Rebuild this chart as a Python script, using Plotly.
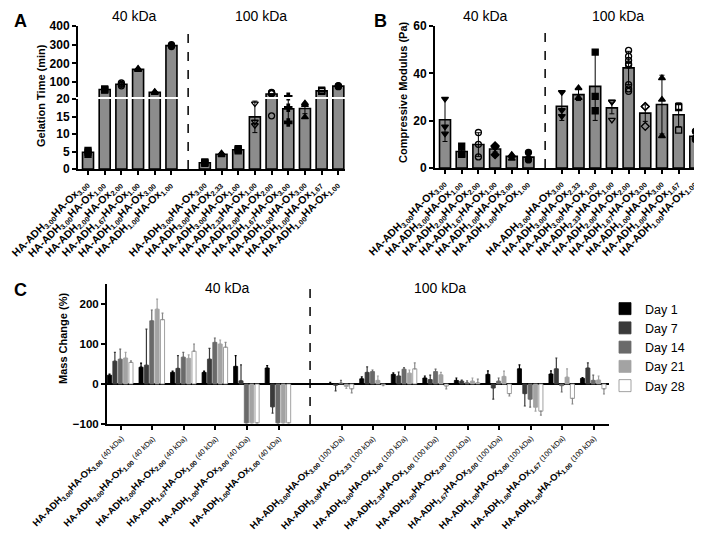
import plotly.graph_objects as go

W, H = 702, 533
def px(x): return x / W
def py(y): return 1 - y / H

# ---------------- data ----------------
adh_40 = ["3.00", "3.00", "2.00", "1.67", "1.00", "1.00"]
ox_40 = ["3.00", "1.00", "2.00", "1.00", "3.00", "1.00"]
adh_100 = ["3.00", "3.00", "3.00", "2.33", "2.00", "1.67", "1.00", "1.00", "1.00"]
ox_100 = ["3.00", "2.33", "1.00", "1.00", "2.00", "3.00", "3.00", "1.67", "1.00"]
pos_40 = [0, 1, 2, 3, 4, 5]
pos_100 = [7, 8, 9, 10, 11, 12, 13, 14, 15]

# Panel A: gelation time (min)
gel_40 = [4.8, 60, 88, 168, 45, 295]
gel_40_err = [0.5, 3, 10, 5, 3, 5]
gel_100 = [1.8, 4.2, 5.5, 14.9, 36, 17.2, 17.3, 53, 78]
gel_100_err = [0.3, 0.4, 0.5, 4.5, 0, 4.0, 1.5, 3, 3]
gel_40_pts = [[4.2, 4.8, 5.3], [57, 60, 63], [80, 88, 95], [165, 168, 172], [42, 45, 48], [290, 295, 300]]
gel_100_pts = [[1.6, 1.8, 2.0], [4.0, 4.3, 4.5], [5.2, 5.5, 5.8], [18.7, 13.5, 12.5],
               [15.2, 40, 42, 45, 38], [20.8, 17.5, 13.3], [18.8, 18.3, 14.8], [50, 53, 56], [75, 78, 81]]
gel_sym_40 = ["square", "square", "circle-open", "triangle-up", "triangle-up", "circle"]
gel_sym_100 = ["square", "triangle-up", "square", "triangle-down-open", "circle-open", "cross", "triangle-up", "square-open", "circle"]
gel_break = 20

# Panel B: compressive modulus (Pa)
mod_40 = [20.4, 7.0, 9.9, 8.0, 4.9, 4.6]
mod_40_err = [9.2, 1.5, 5.0, 1.2, 0.5, 1.2]
mod_100 = [26.1, 31.0, 34.5, 25.4, 42.3, 23.2, 26.8, 22.5, 13.4]
mod_100_err = [6.0, 2.5, 14.4, 2.5, 7.0, 3.5, 12.4, 5.0, 1.5]
mod_40_pts = [[29.2, 17.5, 14.5], [9.2, 6.0, 5.8], [15.0, 10.0, 4.7], [9.4, 9.0, 5.6], [5.6, 5.2, 4.0], [6.6, 3.8, 3.4]]
mod_100_pts = [[32, 24.4, 21.9], [33.8, 29.6, 29.6], [49, 30.3, 24.2], [28, 27.9, 20.3],
               [49.7, 47.2, 45.5, 44, 43.5, 35.2, 33.4, 32.4], [26, 26, 17.6], [38, 28.9, 13.5], [26, 25.5, 16], [15.5, 12.7, 12]]
mod_sym_40 = ["triangle-down", "square", "circle-open", "diamond", "triangle-up", "circle"]
mod_sym_100 = ["triangle-down", "triangle-up", "square", "triangle-down-open", "circle-open", "diamond-open", "triangle-up", "square-open", "circle"]

# Panel C: mass change (%) per day, 15 groups (6 x 40 kDa + 9 x 100 kDa)
days = ["Day 1", "Day 7", "Day 14", "Day 21", "Day 28"]
day1 = [22, 42, 29, 29, 44, 40, 1, 13, 24, 15, 9, 24, 38, 25, 14]
day1_err = [3, 10, 3, 3, 27, 6, 3, 5, 4, 5, 6, 9, 10, 8, 2]
day7 = [57, 47, 39, 62, 8, -57, -3, 29, 20, 11, 7, -10, -24, 38, 40]
day7_err = [22, 90, 32, 27, 40, 16, 14, 14, 10, 11, 3, 28, 31, 27, 13]
day14 = [62, 158, 67, 104, -97, -97, 2, 31, 37, 31, 3, 7, -38, -4, 9]
day14_err = [25, 27, 12, 11, 0, 0, 7, 4, 4, 6, 5, 8, 20, 16, 13]
day21 = [65, 187, 64, 100, -97, -97, -6, 9, 27, 23, 7, 19, -58, 17, 10]
day21_err = [14, 25, 9, 10, 0, 0, 5, 11, 8, 6, 8, 13, 10, 21, 10]
day28 = [54, 161, 82, 92, -97, -97, -12, -2, 38, -5, 3, -24, -68, -36, -12]
day28_err = [4, 16, 18, 12, 0, 0, 10, 2, 15, 7, 9, 6, 10, 14, 13]

# ---------------- styling ----------------
FONT = "Arial, Liberation Sans, sans-serif"
GRAY = "#8c8c8c"
day_fill = ["#000000", "#3a3a3a", "#6a6a6a", "#a3a3a3", "#ffffff"]
day_line = ["#000000", "#3a3a3a", "#6a6a6a", "#a3a3a3", "#8a8a8a"]

def lab(a, o, suffix=""):
    s = f"<b>HA-ADH<sub>{a}</sub>HA-Ox<sub>{o}</sub></b>"
    if suffix:
        s += f" <span style='font-size:7.5px'>{suffix}</span>"
    return s

labels_A = [lab(a, o) for a, o in zip(adh_40, ox_40)] + [lab(a, o) for a, o in zip(adh_100, ox_100)]
labels_C = [lab(a, o, "(40 kDa)") for a, o in zip(adh_40, ox_40)] + [lab(a, o, "(100 kDa)") for a, o in zip(adh_100, ox_100)]
positions = pos_40 + pos_100

fig = go.Figure()

def add_points(xa, ya, pts, syms, keep=lambda v: True):
    for p, vs, sy in zip(positions, pts, syms):
        vv = [v for v in vs if keep(v)]
        if vv:
            fig.add_trace(go.Scatter(x=[p] * len(vv), y=vv, xaxis=xa, yaxis=ya, mode="markers",
                                     marker=dict(symbol=sy, size=6, color="black", line=dict(color="black", width=1.3)),
                                     showlegend=False, hoverinfo="skip", cliponaxis=True))

def add_bars(xa, ya, vals, errs):
    fig.add_trace(go.Bar(x=positions, y=vals, xaxis=xa, yaxis=ya, width=0.66,
                         marker=dict(color=GRAY, line=dict(color="black", width=1.6)),
                         error_y=dict(type="data", array=errs, color="black", thickness=1, width=2.5),
                         showlegend=False, hoverinfo="skip"))

gel_all = gel_40 + gel_100
gel_err_all = gel_40_err + gel_100_err
gel_pts = gel_40_pts + gel_100_pts
gel_sym = gel_sym_40 + gel_sym_100
# broken axis: lower segment (0-20) and upper segment (20-400)
add_bars("x", "y", gel_all, gel_err_all)
add_points("x", "y", gel_pts, gel_sym, lambda v: v <= gel_break + 1)
add_bars("x", "y2", [v if v > gel_break else None for v in gel_all], gel_err_all)
add_points("x", "y2", gel_pts, gel_sym, lambda v: v > gel_break)

add_bars("x2", "y3", mod_40 + mod_100, mod_40_err + mod_100_err)
add_points("x2", "y3", mod_40_pts + mod_100_pts, mod_sym_40 + mod_sym_100)

day_vals = [day1, day7, day14, day21, day28]
day_errs = [day1_err, day7_err, day14_err, day21_err, day28_err]
for k, (name, v, e) in enumerate(zip(days, day_vals, day_errs)):
    plus = [ei if vi >= 0 else 0 for vi, ei in zip(v, e)]
    minus = [ei if vi < 0 else 0 for vi, ei in zip(v, e)]
    fig.add_trace(go.Bar(x=positions, y=v, name=name, xaxis="x3", yaxis="y4",
                         width=0.13, offset=-0.425 + k * 0.17,
                         marker=dict(color=day_fill[k], line=dict(color=day_line[k], width=0.8)),
                         error_y=dict(type="data", symmetric=False, array=plus, arrayminus=minus,
                                      color=day_line[k], thickness=1.2, width=1),
                         hoverinfo="skip"))

def tf(size):
    return dict(family=FONT, size=size, color="black", weight="bold")

axis_common = dict(showline=True, linecolor="black", linewidth=2, ticks="outside", ticklen=4,
                   tickwidth=1.5, tickcolor="black", showgrid=False, zeroline=False, automargin=False)

xA = dict(axis_common, domain=[px(70), px(337)], range=[-0.6, 15.4], anchor="y",
          tickvals=positions, showticklabels=False)
xB = dict(axis_common, domain=[px(427), px(694)], range=[-0.6, 15.4], anchor="y3",
          tickvals=positions, showticklabels=False)
xC = dict(axis_common, domain=[px(99), px(601)], range=[-0.44, 15.48], anchor="y4",
          tickvals=positions, showticklabels=False)

yA_low = dict(axis_common, domain=[py(161), py(91)], range=[0, 20], anchor="x",
              tickvals=[0, 5, 10, 15, 20], tickfont=tf(12))
yA_up = dict(axis_common, domain=[py(89), py(18)], range=[20, 400], anchor="x",
             tickvals=[100, 200, 300, 400], tickfont=tf(12))
yB = dict(axis_common, domain=[py(160), py(18)], range=[0, 60], anchor="x2",
          tickvals=[0, 20, 40, 60], tickfont=tf(12))
yC = dict(axis_common, domain=[py(416), py(276)], range=[-100, 250], anchor="x3",
          tickvals=[-100, 0, 100, 200], tickfont=tf(11.5),
          zeroline=True, zerolinecolor="black", zerolinewidth=2)

shapes = [
    dict(type="line", xref="x", yref="paper", x0=6, x1=6, y0=py(161), y1=py(18),
         line=dict(color="black", width=1.5, dash="dash")),
    dict(type="line", xref="x2", yref="paper", x0=6, x1=6, y0=py(160), y1=py(18),
         line=dict(color="black", width=1.5, dash="dash")),
    dict(type="line", xref="x3", yref="paper", x0=6, x1=6, y0=py(416), y1=py(276),
         line=dict(color="black", width=1.5, dash="dash")),
]

def ann(text, x, y, size=14, bold=False, angle=0):
    return dict(text=text, x=px(x), y=py(y), xref="paper", yref="paper", showarrow=False,
                textangle=angle, xanchor="center", yanchor="middle",
                font=dict(family=FONT, size=size, color="black", weight="bold" if bold else "normal"))

annotations = [
    ann("A", 12, 13, 18, True), ann("B", 372, 13, 18, True), ann("C", 12, 282, 18, True),
    ann("40 kDa", 126, 8, 14), ann("100 kDa", 253, 8, 14),
    ann("40 kDa", 478, 8, 14), ann("100 kDa", 610, 8, 14),
    ann("40 kDa", 220, 280, 14), ann("100 kDa", 432, 280, 14),
    ann("Gelation Time (min)", 33, 88, 11, True, -90),
    ann("Compressive Modulus (Pa)", 395, 84, 11, True, -90),
    ann("Mass Change (%)", 55, 330, 11, True, -90),
]

# rotated category labels placed at the category positions of each x axis
def cat_labels(xref, axis_px, texts, size, dx, dy):
    out = []
    for p, t in zip(positions, texts):
        out.append(dict(text=t, x=p, xref=xref, y=py(axis_px), yref="paper", showarrow=False,
                        textangle=-45, xanchor="right", yanchor="top", xshift=dx, yshift=-dy,
                        borderpad=0, font=dict(family=FONT, size=size, color="black")))
    return out

annotations += cat_labels("x", 161, labels_A, 10.5, 5, 7)
annotations += cat_labels("x2", 160, labels_A, 10.5, 5, 7)
annotations += cat_labels("x3", 416, labels_C, 9.5, 7, 7)

fig.update_layout(
    template="none",
    width=W, height=H, margin=dict(l=0, r=0, t=0, b=0, autoexpand=False),
    paper_bgcolor="white", plot_bgcolor="rgba(0,0,0,0)",
    font=dict(family=FONT, color="black"),
    xaxis=xA, xaxis2=xB, xaxis3=xC,
    yaxis=yA_low, yaxis2=yA_up, yaxis3=yB, yaxis4=yC,
    shapes=shapes, annotations=annotations, barmode="overlay",
    legend=dict(x=px(597), y=py(286), xanchor="left", yanchor="top",
                font=dict(family=FONT, size=12.5, color="black"), bgcolor="rgba(0,0,0,0)",
                tracegroupgap=0),
)

fig.write_html("out.html")
